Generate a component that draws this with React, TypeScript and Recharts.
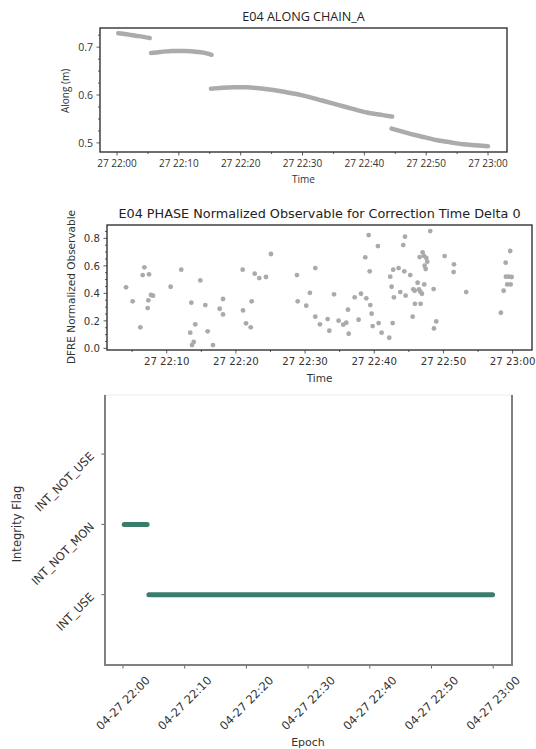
import React from "react";
import { LineChart, Line, ScatterChart, Scatter, XAxis, YAxis } from "recharts";

const FONT_TOP = '"Open Sans", sans-serif';
const FONT = '"DejaVu Sans", sans-serif';

// time values are minutes after 27 22:00
const alongSeg1 = [
  { t: 0.2, v: 0.729 }, { t: 1.5, v: 0.727 }, { t: 3, v: 0.724 }, { t: 4.5, v: 0.721 }, { t: 5.3, v: 0.719 },
];
const alongSeg2 = [
  { t: 5.5, v: 0.688 }, { t: 7, v: 0.69 }, { t: 9, v: 0.692 }, { t: 11, v: 0.692 },
  { t: 13, v: 0.69 }, { t: 14.5, v: 0.687 }, { t: 15.3, v: 0.684 },
];
const alongSeg3 = [
  { t: 15.2, v: 0.613 }, { t: 17, v: 0.615 }, { t: 19, v: 0.616 }, { t: 21, v: 0.616 },
  { t: 23, v: 0.614 }, { t: 25, v: 0.611 }, { t: 27, v: 0.607 }, { t: 29, v: 0.602 },
  { t: 31, v: 0.596 }, { t: 33, v: 0.589 }, { t: 35, v: 0.582 }, { t: 37, v: 0.575 },
  { t: 39, v: 0.568 }, { t: 41, v: 0.562 }, { t: 43, v: 0.558 }, { t: 44.5, v: 0.555 },
];
const alongSeg4 = [
  { t: 44.4, v: 0.53 }, { t: 46, v: 0.524 }, { t: 48, v: 0.517 }, { t: 50, v: 0.511 },
  { t: 52, v: 0.505 }, { t: 54, v: 0.501 }, { t: 56, v: 0.497 }, { t: 58, v: 0.495 }, { t: 60, v: 0.493 },
];

const phasePoints: [number, number][] = [
  [4.12, 0.444], [5.08, 0.342], [6.19, 0.153], [6.53, 0.533], [6.77, 0.589], [7.25, 0.293],
  [7.35, 0.349], [7.44, 0.538], [7.73, 0.388], [8.02, 0.383], [10.57, 0.448], [12.1, 0.572],
  [13.4, 0.114], [13.56, 0.332], [13.66, 0.024], [13.9, 0.046], [14.13, 0.175], [14.86, 0.494],
  [15.58, 0.315], [15.92, 0.124], [16.69, 0.024], [17.66, 0.288], [18.14, 0.359], [18.14, 0.247],
  [20.98, 0.572], [21.03, 0.276], [21.46, 0.182], [22.14, 0.153], [22.28, 0.342], [22.72, 0.543],
  [23.38, 0.511], [24.35, 0.519], [25.07, 0.686], [28.83, 0.533], [28.93, 0.342], [30.17, 0.31],
  [30.7, 0.404], [31.48, 0.584], [31.48, 0.23], [32.15, 0.175], [33.26, 0.213], [33.5, 0.128],
  [34.18, 0.393], [34.85, 0.201], [35.52, 0.172], [35.96, 0.186], [36.2, 0.281], [36.3, 0.106],
  [37.17, 0.371], [37.74, 0.208], [38.08, 0.397], [38.7, 0.662], [38.85, 0.364], [39.19, 0.824],
  [39.34, 0.56], [39.43, 0.315], [39.62, 0.252], [39.77, 0.162], [40.53, 0.744], [40.63, 0.184],
  [41.06, 0.114], [42.17, 0.077], [42.31, 0.521], [42.51, 0.448], [42.66, 0.184], [42.74, 0.572],
  [42.84, 0.371], [43.52, 0.584], [43.76, 0.409], [44.19, 0.751], [44.34, 0.56], [44.44, 0.812],
  [44.53, 0.383], [45.2, 0.533], [45.55, 0.23], [45.64, 0.429], [45.84, 0.419], [45.88, 0.324],
  [46.27, 0.477], [46.46, 0.429], [46.65, 0.412], [46.7, 0.324], [46.89, 0.397], [46.56, 0.664],
  [46.99, 0.698], [47.18, 0.673], [47.23, 0.465], [47.28, 0.601], [47.43, 0.577], [47.52, 0.657],
  [47.66, 0.63], [48.09, 0.853], [48.58, 0.431], [48.63, 0.145], [48.96, 0.196], [50.17, 0.671],
  [51.47, 0.555], [51.52, 0.611], [53.29, 0.409], [58.3, 0.259], [58.7, 0.419], [58.99, 0.623],
  [59.03, 0.521], [59.22, 0.465], [59.42, 0.521], [59.65, 0.708], [59.71, 0.465], [59.86, 0.519],
];

const flagNames = ["INT_USE", "INT_NOT_MON", "INT_NOT_USE"];
const flagMonSeg = [{ t: 0.2, f: 1 }, { t: 3.9, f: 1 }];
const flagUseSeg = [{ t: 4.2, f: 0 }, { t: 59.9, f: 0 }];

const hourTicks = [0, 10, 20, 30, 40, 50, 60];
const timeLabels = ["27 22:00", "27 22:10", "27 22:20", "27 22:30", "27 22:40", "27 22:50", "27 23:00"];
const epochLabels = ["04-27 22:00", "04-27 22:10", "04-27 22:20", "04-27 22:30", "04-27 22:40", "04-27 22:50", "04-27 23:00"];
const fiveMinTicks = [0, 5, 10, 15, 20, 25, 30, 35, 40, 45, 50, 55, 60];
const phaseXTicks = [5, 10, 15, 20, 25, 30, 35, 40, 45, 50, 55, 60];

const alongMajor = [0.5, 0.6, 0.7];
const alongTicks = [0.5, 0.525, 0.55, 0.575, 0.6, 0.625, 0.65, 0.675, 0.7, 0.725];
const phaseMajor = [0, 0.2, 0.4, 0.6, 0.8];
const phaseTicks = [0, 0.05, 0.1, 0.15, 0.2, 0.25, 0.3, 0.35, 0.4, 0.45, 0.5, 0.55, 0.6, 0.65, 0.7, 0.75, 0.8, 0.85];

const phaseData = phasePoints.map(([t, v]) => ({ t, v }));

const makeXTick = (labels: string[], font: string, size: number) => (props: any) => {
  const { x, y, payload } = props;
  const i = hourTicks.indexOf(payload.value);
  const major = i >= 0;
  return (
    <g>
      <line x1={x} x2={x} y1={y} y2={y + (major ? 3.5 : 2)} stroke="#333" strokeWidth={0.8} />
      {major && (
        <text x={x} y={y + 7} dy="0.76em" textAnchor="middle" fontFamily={font} fontSize={size} fill="#333">
          {labels[i]}
        </text>
      )}
    </g>
  );
};

const makeYTick = (majors: number[], font: string, size: number) => (props: any) => {
  const { x, y, payload } = props;
  const major = majors.indexOf(payload.value) >= 0;
  return (
    <g>
      <line x1={x} x2={x - (major ? 3.5 : 2)} y1={y} y2={y} stroke="#333" strokeWidth={0.8} />
      {major && (
        <text x={x - 7} y={y} dy="0.36em" textAnchor="end" fontFamily={font} fontSize={size} fill="#333">
          {payload.value.toFixed(1)}
        </text>
      )}
    </g>
  );
};

const EpochTick = (props: any) => {
  const { x, y, payload } = props;
  const i = hourTicks.indexOf(payload.value);
  const cy = y + 38;
  return (
    <g>
      <line x1={x} x2={x} y1={y} y2={y + 3.5} stroke="#333" strokeWidth={0.8} />
      <text x={x} y={cy} dy="0.36em" textAnchor="middle" fontFamily={FONT} fontSize={11.5} fill="#333"
        transform={`rotate(-45 ${x} ${cy})`}>
        {epochLabels[i]}
      </text>
    </g>
  );
};

const FlagTick = (props: any) => {
  const { x, y, payload } = props;
  const tx = x - 13;
  return (
    <g>
      <line x1={x} x2={x - 3.5} y1={y} y2={y} stroke="#333" strokeWidth={0.8} />
      <text x={tx} y={y} dy="0.36em" textAnchor="end" fontFamily={FONT} fontSize={11.5} fill="#333"
        transform={`rotate(-45 ${tx} ${y})`}>
        {flagNames[payload.value]}
      </text>
    </g>
  );
};

const Dot = (props: any) => <circle cx={props.cx} cy={props.cy} r={2.4} fill="#aaaaaa" />;

function Txt({ x, y, text, size, font, rotate = 0, color = "#333" }: any) {
  return (
    <div
      style={{
        position: "absolute",
        left: x,
        top: y,
        transform: `translate(-50%, -50%) rotate(${rotate}deg)`,
        whiteSpace: "nowrap",
        fontFamily: font,
        fontSize: size,
        lineHeight: 1,
        color,
      }}
    >
      {text}
    </div>
  );
}

export default function App() {
  const alongDomain = [-2.75, 63.07];
  const phaseDomainX = [1.37, 62.8];
  const flagDomainX = [-2.92, 63.05];
  return (
    <div style={{ position: "absolute", left: 0, top: 0, width: 536, height: 749, background: "#fff" }}>
      {/* top: along */}
      <div style={{ position: "absolute", left: 0, top: 0 }}>
        <LineChart width={536} height={190} margin={{ top: 28, right: 29, bottom: 0, left: 0 }}>
          <XAxis type="number" dataKey="t" domain={alongDomain} allowDataOverflow
            ticks={fiveMinTicks} interval={0} height={38} tickSize={0} tickMargin={0} tickLine={false}
            axisLine={false} tick={makeXTick(timeLabels, FONT_TOP, 10)} />
          <YAxis type="number" domain={[0.481, 0.74]} allowDataOverflow ticks={alongTicks}
            interval={0} width={100} tickSize={0} tickMargin={0} tickLine={false} axisLine={false}
            tick={makeYTick(alongMajor, FONT_TOP, 10.5)} />
          {[alongSeg1, alongSeg2, alongSeg3, alongSeg4].map((seg, i) => (
            <Line key={i} data={seg} dataKey="v" type="monotone" stroke="#ababab"
              strokeWidth={4.5} strokeLinecap="round" dot={false} isAnimationActive={false} />
          ))}
        </LineChart>
      </div>
      <Txt x={303.5} y={17} text="E04 ALONG CHAIN_A" size={12.6} font={FONT_TOP} color="#222" />
      <Txt x={65} y={91} text="Along (m)" size={10} font={FONT_TOP} rotate={-90} />
      <Txt x={303.5} y={179} text="Time" size={10} font={FONT_TOP} />

      {/* middle: phase */}
      <div style={{ position: "absolute", left: 0, top: 190 }}>
        <ScatterChart width={536} height={200} margin={{ top: 35, right: 4, bottom: 0, left: 0 }}>
          <XAxis type="number" dataKey="t" domain={phaseDomainX} allowDataOverflow
            ticks={phaseXTicks} interval={0} height={40} tickSize={0} tickMargin={0} tickLine={false}
            axisLine={false} tick={makeXTick(timeLabels, FONT, 10.2)} />
          <YAxis type="number" dataKey="v" domain={[-0.012, 0.897]} allowDataOverflow
            ticks={phaseTicks} interval={0} width={107} tickSize={0} tickMargin={0} tickLine={false}
            axisLine={false} tick={makeYTick(phaseMajor, FONT, 10.2)} />
          <Scatter data={phaseData} fill="#aaaaaa" shape={Dot} isAnimationActive={false} />
        </ScatterChart>
      </div>
      <Txt x={319.5} y={214} text="E04 PHASE Normalized Observable for Correction Time Delta 0" size={12.8} font={FONT} color="#222" />
      <Txt x={71} y={287} text="DFRE Normalized Observable" size={10.5} font={FONT} rotate={-90} />
      <Txt x={319.5} y={378} text="Time" size={10.5} font={FONT} />

      {/* bottom: integrity flag */}
      <div style={{ position: "absolute", left: 0, top: 380 }}>
        <LineChart width={536} height={369} margin={{ top: 15, right: 24, bottom: 0, left: 0 }}>
          <XAxis type="number" dataKey="t" domain={flagDomainX} allowDataOverflow
            ticks={hourTicks} interval={0} height={84} tickSize={0} tickMargin={0} tickLine={false}
            axisLine={false} tick={EpochTick} />
          <YAxis type="number" dataKey="f" domain={[-1, 2.84]} allowDataOverflow ticks={[0, 1, 2]}
            interval={0} width={105} tickSize={0} tickMargin={0} tickLine={false} axisLine={false}
            tick={FlagTick} />
          {[flagMonSeg, flagUseSeg].map((seg, i) => (
            <Line key={i} data={seg} dataKey="f" stroke="#3a7d6c" strokeWidth={5}
              strokeLinecap="round" dot={false} isAnimationActive={false} />
          ))}
        </LineChart>
      </div>
      <Txt x={18} y={524} text="Integrity Flag" size={11.5} font={FONT} rotate={-90} />
      <Txt x={308} y={742} text="Epoch" size={11} font={FONT} />

      {/* plot-area frames (spines) */}
      <svg width={536} height={749} style={{ position: "absolute", left: 0, top: 0, pointerEvents: "none" }}>
        <rect x={100} y={28} width={407} height={124} fill="none" stroke="#333" strokeWidth={1.4} />
        <rect x={107} y={225} width={425} height={125} fill="none" stroke="#333" strokeWidth={1.4} />
        <line x1={104} y1={395} x2={513} y2={395} stroke="#ececec" strokeWidth={1} />
        <polyline points="105,395 105,665 512,665 512,395" fill="none" stroke="#808080" strokeWidth={2} />
      </svg>
    </div>
  );
}
